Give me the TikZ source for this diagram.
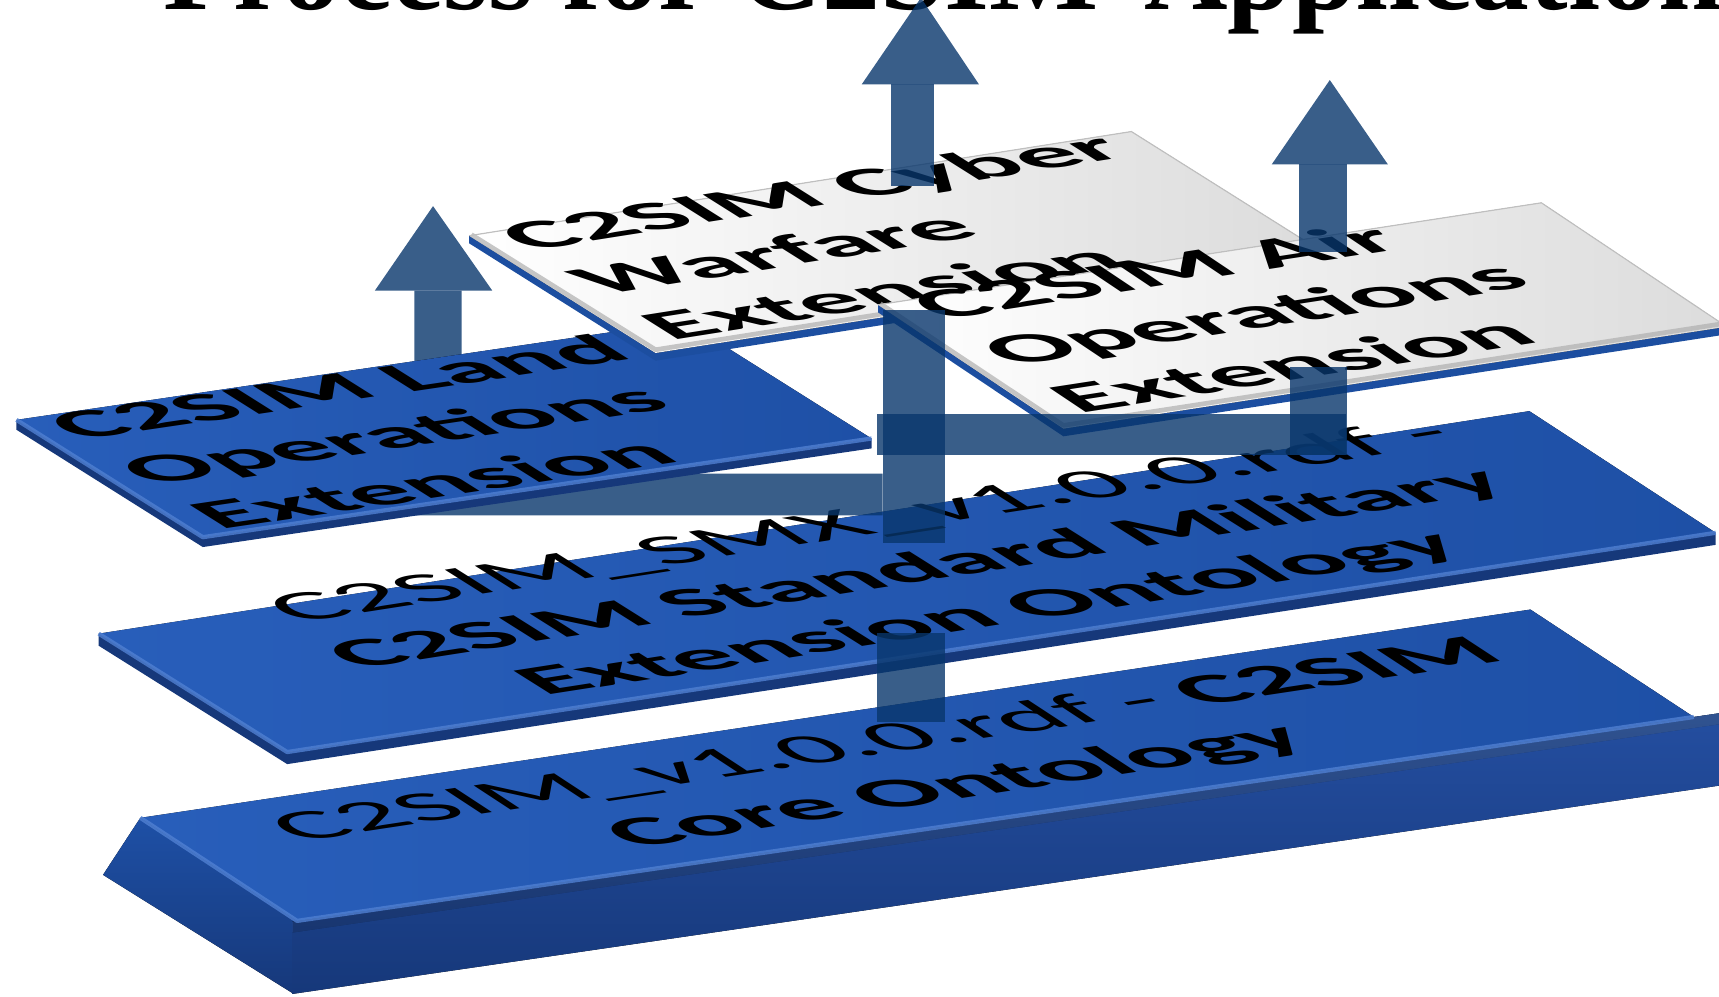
\documentclass[tikz,border=0pt]{standalone}
\usepackage{fontspec}
\newfontfamily\slabfont{Carlito}
\newfontfamily\headfont{Liberation Serif}
\definecolor{arrowblue}{RGB}{8,54,108}
\definecolor{slablight}{RGB}{40,94,186}
\definecolor{slabmid}{RGB}{30,80,166}
\definecolor{slabface}{RGB}{36,78,160}
\definecolor{slabside}{RGB}{22,56,122}
\definecolor{slabedge}{RGB}{80,128,210}
\definecolor{paperedge}{RGB}{28,78,160}
\definecolor{papergray}{RGB}{220,220,220}
\definecolor{paperbevel}{RGB}{175,175,175}
\begin{document}
\begin{tikzpicture}[x=0.01cm,y=-0.01cm,
  arrowpart/.style={fill=arrowblue,fill opacity=0.8,draw=none},
  slabtext/.style={inner sep=0pt,outer sep=0pt,text=black,transform shape,
    font=\slabfont\bfseries\fontsize{30}{37.2}\selectfont},
  thintext/.style={slabtext,font=\slabfont\fontsize{30.5}{37.2}\selectfont},
  bluetop/.style={left color=slablight,right color=slabmid},
  whitetop/.style={left color=white,right color=papergray},
  bluerim/.style={fill=slabside},
  whiterim/.style={fill=paperedge},
  highlight/.style={draw=slabedge,line width=1.1pt,line join=round,opacity=0.8},
  bevelline/.style={draw=paperbevel,line width=1.2pt,line join=round,opacity=0.7}]
\clip (0,0) rectangle (1568,909);
\useasboundingbox (0,0) rectangle (1568,909);

% heading, only its lowest part lies on the page
\node[anchor=base west,inner sep=0pt,font=\headfont\bfseries\fontsize{30}{36}\selectfont] (head1) at (148,8.5) {Process for C2SIM};
\node[anchor=base west,inner sep=0pt,font=\headfont\bfseries\fontsize{30}{36}\selectfont] (head2) at (1043,8.5) {Application};

% ---- core slab (thick block) ----
\fill[top color=slabmid,bottom color=slabside] (128,746) -- (271,840) -- (267,906) -- (94,798) -- cycle;
\begin{scope}[shift={(271,840)},cm={1,0.146,0,1,(0,0)}]
  \fill[top color=slabface,bottom color=slabside] (-4,0) rectangle (1300,66);
  \fill[top color=slabedge,bottom color=slabface,opacity=0.5] (-4,0) rectangle (1300,10);
\end{scope}
\fill[bluetop] (128,746) -- (1396,556) -- (1545,654) -- (271,840) -- cycle;
\draw[highlight] (128,746) -- (271,840) -- (1545,654);
\begin{scope}[shift={(824,685)},cm={0.9888,0.1491,-0.4885,0.3201,(0,0)}]
  \node[thintext,anchor=base] (core1) at (0pt,0pt) {C2SIM\_v1.0.0.rdf - {\bfseries C2SIM}};
  \node[slabtext,anchor=base] (core2) at (0pt,-37.2pt) {Core Ontology};
\end{scope}

% ---- standard military extension slab ----
\fill[bluerim] (90,578) -- (262,686) -- (1565,486) -- (1565,497) -- (262,697) -- (90,589) -- cycle;
\fill[bluetop] (90,578) -- (1395,375) -- (1565,486) -- (262,686) -- cycle;
\draw[highlight] (90,578) -- (262,686) -- (1565,486);
\begin{scope}[shift={(788,488)},cm={0.9881,0.1537,-0.4942,0.3110,(0,0)}]
  \node[thintext,anchor=base,font=\slabfont\fontsize{31}{37.2}\selectfont] (smx1) at (4pt,0pt) {C2SIM\_SMX\_v1.0.0.rdf -};
  \node[slabtext,anchor=base] (smx2) at (0pt,-37.2pt) {C2SIM Standard Military};
  \node[slabtext,anchor=base] (smx3) at (0pt,-74.4pt) {Extension Ontology};
\end{scope}

% ---- land arrow, passing under the land slab ----
\fill[arrowpart] (378,265) -- (421,265) -- (421,432) -- (805,432) -- (805,470) -- (378,470) -- cycle;
\fill[arrowpart] (342,265) -- (449,265) -- (395,188) -- cycle;

% ---- land operations slab ----
\fill[bluerim] (15,383) -- (185,490) -- (795,400) -- (795,409) -- (185,499) -- (15,392) -- cycle;
\fill[bluetop] (15,383) -- (625,293) -- (795,400) -- (185,490) -- cycle;
\draw[highlight] (15,383) -- (185,490) -- (795,400);
\begin{scope}[shift={(72,402)},cm={0.9893,0.1460,-0.4942,0.3110,(0,0)}]
  \node[slabtext,anchor=base west] (land1) at (0pt,0pt) {C2SIM Land};
  \node[slabtext,anchor=base west] (land2) at (0pt,-37.2pt) {Operations};
  \node[slabtext,anchor=base west] (land3) at (0pt,-74.4pt) {Extension};
\end{scope}

% ---- cyber warfare slab ----
\fill[whiterim] (428,215) -- (598,322) -- (1202,227) -- (1202,234) -- (598,329) -- (428,222) -- cycle;
\fill[whitetop] (428,215) -- (1032,120) -- (1202,227) -- (598,322) -- cycle;
\draw[bevelline] (430,214) -- (598,319) -- (1200,224);
\draw[draw=gray!50,line width=0.3pt] (428,215) -- (1032,120) -- (1202,227);
\begin{scope}[shift={(483,229)},cm={0.9879,0.1554,-0.4942,0.3110,(0,0)}]
  \node[slabtext,anchor=base west] (cyber1) at (0pt,0pt) {C2SIM Cyber};
  \node[slabtext,anchor=base west] (cyber2) at (0pt,-37.2pt) {Warfare};
  \node[slabtext,anchor=base west] (cyber3) at (0pt,-74.4pt) {Extension};
\end{scope}

% ---- air operations slab ----
\fill[whiterim] (801,278) -- (970,391) -- (1575,298) -- (1575,305) -- (970,398) -- (801,285) -- cycle;
\fill[whitetop] (801,278) -- (1406,185) -- (1575,298) -- (970,391) -- cycle;
\draw[bevelline] (803,277) -- (970,388) -- (1573,295);
\draw[draw=gray!50,line width=0.3pt] (801,278) -- (1406,185) -- (1575,298);
\begin{scope}[shift={(858,292)},cm={0.9884,0.1519,-0.4855,0.3246,(0,0)}]
  \node[slabtext,anchor=base west] (air1) at (0pt,0pt) {C2SIM Air};
  \node[slabtext,anchor=base west] (air2) at (0pt,-37.2pt) {Operations};
  \node[slabtext,anchor=base west] (air3) at (0pt,-74.4pt) {Extension};
\end{scope}

% ---- arrows laid over the slabs ----
\fill[arrowpart] (813,77) rectangle (852,170);
\fill[arrowpart] (786,77) -- (893,77) -- (840,-2) -- cycle;
\fill[arrowpart] (805,283) rectangle (862,495);
\fill[arrowpart] (800,378) rectangle (1228,415);
\fill[arrowpart] (1177,335) rectangle (1229,415);
\fill[arrowpart] (1185,150) rectangle (1229,230);
\fill[arrowpart] (1160,150) -- (1266,150) -- (1213,73) -- cycle;
\fill[arrowpart] (800,577) rectangle (862,659);
\end{tikzpicture}
\end{document}
